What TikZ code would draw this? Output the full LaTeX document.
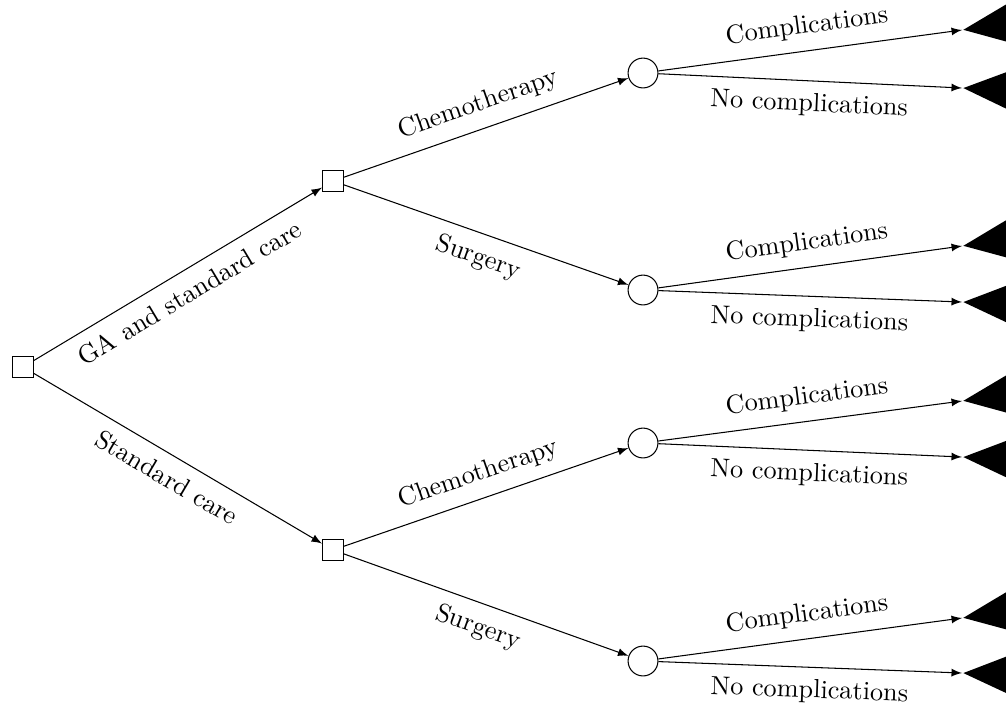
\documentclass[tikz,border=0pt]{standalone}
\usetikzlibrary{shapes.geometric}

\begin{document}
\begin{tikzpicture}[x=0.0134cm, y=-0.0134cm, >=latex,
  decision/.style={draw, rectangle, minimum size=0.28cm, inner sep=0pt},
  chance/.style={draw, circle, minimum size=0.4cm, inner sep=0pt},
  terminal/.style={isosceles triangle, isosceles triangle apex angle=46, fill=black, draw=none, inner sep=0pt, minimum size=0.8cm, anchor=apex},
  branch/.style={midway, sloped, inner sep=4.5pt}]
\useasboundingbox (0,0) rectangle (1006,706);
\node[decision] (dec0) at (23,367) {};
\node[decision] (dec1) at (333,181) {};
\node[decision] (dec2) at (333,550) {};
\node[chance] (ch1) at (643,73) {};
\node[chance] (ch2) at (643,290) {};
\node[chance] (ch3) at (643,443) {};
\node[chance] (ch4) at (643,661) {};
\node[terminal, rotate=187.7] (end1) at (962,30) {};
\node[terminal, rotate=177.3] (end2) at (962,88) {};
\node[terminal, rotate=187.9] (end3) at (962,246) {};
\node[terminal, rotate=177.8] (end4) at (962,302) {};
\node[terminal, rotate=187.7] (end5) at (962,401) {};
\node[terminal, rotate=177.7] (end6) at (962,457) {};
\node[terminal, rotate=187.9] (end7) at (962,618) {};
\node[terminal, rotate=178.0] (end8) at (962,673) {};
\draw[->] (dec0) -- node[branch, below] {GA and standard care} (dec1);
\draw[->] (dec0) -- node[branch, below] {Standard care} (dec2);
\draw[->] (dec1) -- node[branch, above] {Chemotherapy} (ch1);
\draw[->] (dec1) -- node[branch, below] {Surgery} (ch2);
\draw[->] (dec2) -- node[branch, above] {Chemotherapy} (ch3);
\draw[->] (dec2) -- node[branch, below] {Surgery} (ch4);
\draw[->] (ch1) -- node[branch, above] {Complications} (end1.apex);
\draw[->] (ch1) -- node[branch, below] {No complications} (end2.apex);
\draw[->] (ch2) -- node[branch, above] {Complications} (end3.apex);
\draw[->] (ch2) -- node[branch, below] {No complications} (end4.apex);
\draw[->] (ch3) -- node[branch, above] {Complications} (end5.apex);
\draw[->] (ch3) -- node[branch, below] {No complications} (end6.apex);
\draw[->] (ch4) -- node[branch, above] {Complications} (end7.apex);
\draw[->] (ch4) -- node[branch, below] {No complications} (end8.apex);
\end{tikzpicture}
\end{document}
